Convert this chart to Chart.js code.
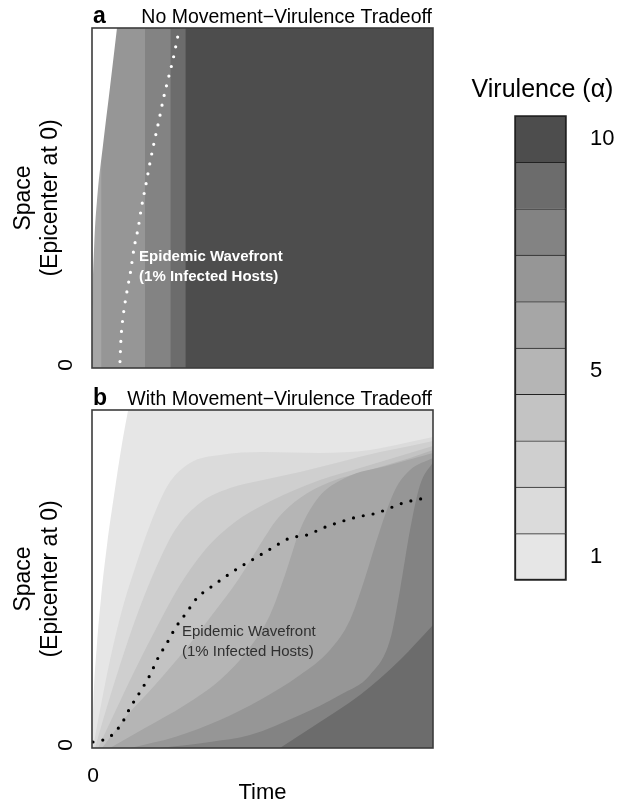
<!DOCTYPE html>
<html><head><meta charset="utf-8">
<script src="https://cdn.jsdelivr.net/npm/chart.js@4.4.1/dist/chart.umd.min.js"></script>
<style>
html,body{margin:0;padding:0;background:#fff;width:620px;height:803px;overflow:hidden}
canvas{position:absolute;left:0;top:0}
</style></head><body>
<canvas id="ca" width="620" height="803"></canvas>
<canvas id="cb" width="620" height="803"></canvas>
<canvas id="cc" width="620" height="803"></canvas>
<script>
// ---------------- data ----------------
const virulenceLevels = [1, 2, 3, 4, 5, 6, 7, 8, 9, 10];
const legendTickValues = [1, 5, 10];
const yTickLabel = '0';
const xTickLabel = '0';
const TIME_MAX = 100, SPACE_MAX = 100;

// Panel a: virulence bands in time (right edge of each band) and their levels
const bandEndsA = [2.8, 15.6, 23.1, 27.5, 100];
const bandLevelsA = [6, 7, 8, 9, 10];
// Panel a: edge of the uninfected (white) region [time, space]
const frontierA = [[0,0],[0.15,17.1],[0.59,34.7],[1.47,49.4],[3.23,65.6],[5.28,82.6],[7.33,100]];
// Panel a: epidemic wavefront (1% infected)
const wavefrontA = [[8.21,1.9],[8.50,8.7],[9.18,15.6],[10.18,22.1],[11.35,28.6],[12.32,35.2],[13.58,41.4],[14.57,47.6],[15.84,54.1],[17.01,60.4],[18.27,66.6],[19.65,72.9],[20.91,79.1],[22.38,85.2],[23.84,91.1],[25.13,97.4]];

// Panel b: edge of uninfected region
const frontierB = [[0,0],[0.45,15],[1.4,30],[2.7,45],[4.4,60],[6.5,75],[8.8,90],[10.6,100]];
// Panel b: contour lines; area below each has virulence >= given level
const contour2 = [[0.29,0],[2.35,11.24],[5.28,26.04],[8.80,40.83],[12.90,54.14],[17.01,65.98],[22.29,77.81],[28.74,84.32],[37.54,86.69],[50.15,87.57],[66.86,87.28],[81.52,88.17],[91.79,90.24],[100,92.01]];
const contour3 = [[0.88,0],[4.11,11.24],[8.21,24.56],[13.20,39.35],[18.48,52.66],[24.34,64.50],[31.67,72.49],[40.47,76.92],[50.15,79.29],[61.00,81.66],[72.73,84.62],[84.46,87.57],[93.26,89.35],[100,90.83]];
const contour4 = [[1.76,0],[6.74,10.65],[12.61,23.08],[19.35,36.39],[25.81,48.22],[33.14,58.58],[41.94,66.86],[50.15,71.89],[58.06,75.74],[66.86,79.29],[78.59,82.84],[90.32,86.39],[100,89.35]];
const contour5 = [[2.93,0],[9.68,8.88],[18.48,18.64],[27.27,28.99],[35.19,39.35],[42.82,49.70],[48.68,59.17],[54.55,68.05],[61.00,73.96],[69.79,78.70],[81.52,82.25],[93.26,85.80],[100,88.17]];
const contour6 = [[5.28,0],[15.54,5.92],[27.27,12.72],[37.54,20.12],[45.75,28.99],[52.20,39.35],[56.60,51.18],[61.00,64.50],[66.28,73.96],[74.19,79.88],[87.39,83.73],[100,87.28]];
const contour7 = [[11.14,0],[24.34,3.25],[37.54,8.28],[49.27,14.20],[61.00,21.60],[69.79,28.99],[75.66,37.87],[80.06,50.30],[84.46,64.50],[88.86,76.33],[93.26,82.25],[100,85.80]];
const contour8 = [[19.94,0],[34.60,1.78],[46.33,3.85],[61.00,9.76],[72.73,15.68],[81.52,21.60],[87.39,31.95],[90.32,46.75],[93.26,64.50],[96.19,77.81],[100,84.62]];
const contour9 = [[55.13,0],[66.86,7.69],[78.59,15.68],[90.32,26.04],[100,36.39]];
const contoursB = [contour2, contour3, contour4, contour5, contour6, contour7, contour8, contour9];
const contourLevelsB = [2, 3, 4, 5, 6, 7, 8, 9];
// Panel b: epidemic wavefront
const wavefrontB = [[0.29,1.78],[3.23,2.37],[5.87,3.85],[8.80,7.40],[11.14,11.83],[14.08,16.57],[17.01,21.60],[19.35,26.63],[21.99,31.07],[24.63,35.80],[27.86,40.24],[30.79,44.38],[34.90,47.63],[39.00,50.59],[43.40,53.55],[48.39,56.51],[52.79,59.17],[58.06,62.13],[63.05,63.02],[67.74,65.09],[72.73,66.86],[77.71,68.34],[83.58,69.53],[87.39,71.01],[91.20,72.49],[97.65,73.96]];

// text
const titleA = 'No Movement\u2212Virulence Tradeoff';
const titleB = 'With Movement\u2212Virulence Tradeoff';
const yTitle = ['Space', '(Epicenter at 0)'];
const xTitle = 'Time';
const waveLabel = ['Epidemic Wavefront', '(1% Infected Hosts)'];
const waveLabelPosA = [13.8, 32.6];
const waveLabelPosB = [26.4, 34.3];
const legendTitle = 'Virulence (\u03b1)';

// ---------------- styles ----------------
const levelColors = ['#E6E6E6','#DBDBDB','#CFCFCF','#C3C3C3','#B5B5B5','#A6A6A6','#969696','#838383','#6C6C6C','#4D4D4D'];
const FONT = "'Liberation Sans', Arial, Helvetica, sans-serif";
const NONE = 'rgba(0,0,0,0)';

const pts = arr => arr.map(p => ({x: p[0], y: p[1]}));

function area(data, color, fill) {
  return {data: pts(data), fill, backgroundColor: color, borderColor: NONE, borderWidth: 0,
          pointRadius: 0, cubicInterpolationMode: 'monotone'};
}
function dots(data, color) {
  return {data: pts(data), fill: false, borderColor: color, borderWidth: 3.2, borderDash: [0, 10],
          borderCapStyle: 'round', pointRadius: 0, cubicInterpolationMode: 'monotone'};
}
function withOrder(layers) {
  layers.forEach((d, i) => { d.order = layers.length - i; });
  return layers;
}

function decoPlugin(o) {
  return {
    id: 'deco' + o.letter,
    afterDraw(chart) {
      const ctx = chart.ctx, a = chart.chartArea, xs = chart.scales.x, ys = chart.scales.y;
      ctx.save();
      ctx.strokeStyle = '#3c3c3c'; ctx.lineWidth = 1.6;
      ctx.strokeRect(a.left, a.top, a.right - a.left, a.bottom - a.top);
      ctx.fillStyle = '#000'; ctx.textBaseline = 'alphabetic';
      ctx.font = 'bold 23px ' + FONT; ctx.textAlign = 'left';
      ctx.fillText(o.letter, a.left + 1, a.top - 5);
      ctx.font = '19.5px ' + FONT; ctx.textAlign = 'right';
      ctx.fillText(o.title, a.right - 1, a.top - 5);
      // y tick
      ctx.save();
      ctx.translate(66, ys.getPixelForValue(0) - 3); ctx.rotate(-Math.PI / 2);
      ctx.font = '21px ' + FONT; ctx.textAlign = 'center'; ctx.textBaseline = 'middle';
      ctx.fillText(yTickLabel, 0, 0);
      ctx.restore();
      // y title
      const midY = (a.top + a.bottom) / 2;
      [24, 51].forEach((x, i) => {
        ctx.save(); ctx.translate(x, midY); ctx.rotate(-Math.PI / 2);
        ctx.font = '23px ' + FONT; ctx.textAlign = 'center'; ctx.textBaseline = 'middle';
        ctx.fillText(yTitle[i], 0, 0); ctx.restore();
      });
      if (o.bottom) {
        ctx.font = '21px ' + FONT; ctx.textAlign = 'center'; ctx.textBaseline = 'alphabetic';
        ctx.fillText(xTickLabel, xs.getPixelForValue(0) + 1, a.bottom + 34);
        ctx.font = '22px ' + FONT;
        ctx.fillText(xTitle, (a.left + a.right) / 2, a.bottom + 51);
      }
      // wavefront annotation
      ctx.fillStyle = o.labelColor; ctx.font = o.labelFont; ctx.textAlign = 'left'; ctx.textBaseline = 'middle';
      const lx = xs.getPixelForValue(o.labelPos[0]), ly = ys.getPixelForValue(o.labelPos[1]);
      ctx.fillText(waveLabel[0], lx, ly);
      ctx.fillText(waveLabel[1], lx, ly + 20);
      ctx.restore();
    }
  };
}

function panel(id, padding, datasets, deco) {
  return new Chart(document.getElementById(id), {
    type: 'line',
    data: {datasets},
    options: {
      responsive: false, animation: false, events: [],
      layout: {padding},
      plugins: {legend: {display: false}, tooltip: {enabled: false}, title: {display: false}},
      scales: {
        x: {type: 'linear', min: 0, max: TIME_MAX, display: false},
        y: {type: 'linear', min: 0, max: SPACE_MAX, display: false}
      }
    },
    plugins: [decoPlugin(deco)]
  });
}

// ---------- panel a ----------
const layersA = [];
for (let i = bandEndsA.length - 1; i >= 0; i--) {
  layersA.push(area([[0, SPACE_MAX], [bandEndsA[i], SPACE_MAX]], levelColors[bandLevelsA[i] - 1], 'start'));
}
layersA.push(area(frontierA, '#ffffff', 'end'));
layersA.push(dots(wavefrontA, '#ffffff'));
panel('ca', {left: 92, top: 28, right: 187, bottom: 435}, withOrder(layersA),
  {letter: 'a', title: titleA, labelColor: '#ffffff', labelFont: 'bold 15px ' + FONT, labelPos: waveLabelPosA, bottom: false});

// ---------- panel b ----------
const layersB = [area([[0, SPACE_MAX], [TIME_MAX, SPACE_MAX]], levelColors[0], 'start')];
contoursB.forEach((c, i) => layersB.push(area(c, levelColors[contourLevelsB[i] - 1], 'start')));
layersB.push(area(frontierB, '#ffffff', 'end'));
layersB.push(dots(wavefrontB, '#000000'));
panel('cb', {left: 92, top: 410, right: 187, bottom: 55}, withOrder(layersB),
  {letter: 'b', title: titleB, labelColor: '#303030', labelFont: '15px ' + FONT, labelPos: waveLabelPosB, bottom: true});

// ---------- colour key ----------
new Chart(document.getElementById('cc'), {
  type: 'bar',
  data: {
    labels: ['key'],
    datasets: virulenceLevels.map(k => ({
      data: [1], backgroundColor: levelColors[k - 1], borderColor: '#222',
      borderWidth: {top: 1, left: 1.5, right: 1.5, bottom: k === 1 ? 1.5 : 0},
      borderSkipped: false, barPercentage: 1, categoryPercentage: 1
    }))
  },
  options: {
    responsive: false, animation: false, events: [],
    layout: {padding: {left: 515, top: 116, right: 54, bottom: 223}},
    plugins: {legend: {display: false}, tooltip: {enabled: false}},
    scales: {
      x: {stacked: true, display: false},
      y: {stacked: true, min: 0, max: virulenceLevels.length, display: false}
    }
  },
  plugins: [{
    id: 'key',
    afterDraw(chart) {
      const ctx = chart.ctx, a = chart.chartArea, ys = chart.scales.y;
      ctx.save();
      ctx.strokeStyle = '#222'; ctx.lineWidth = 1.5;
      ctx.strokeRect(a.left, a.top, a.right - a.left, a.bottom - a.top);
      ctx.fillStyle = '#000';
      ctx.font = '25px ' + FONT; ctx.textAlign = 'center'; ctx.textBaseline = 'alphabetic';
      ctx.fillText(legendTitle, (a.left + a.right) / 2 + 2, a.top - 19);
      ctx.font = '22px ' + FONT; ctx.textAlign = 'left'; ctx.textBaseline = 'middle';
      legendTickValues.forEach(v => ctx.fillText(String(v), a.right + 24, ys.getPixelForValue(v - 0.5)));
      ctx.restore();
    }
  }]
});
</script>
</body></html>
